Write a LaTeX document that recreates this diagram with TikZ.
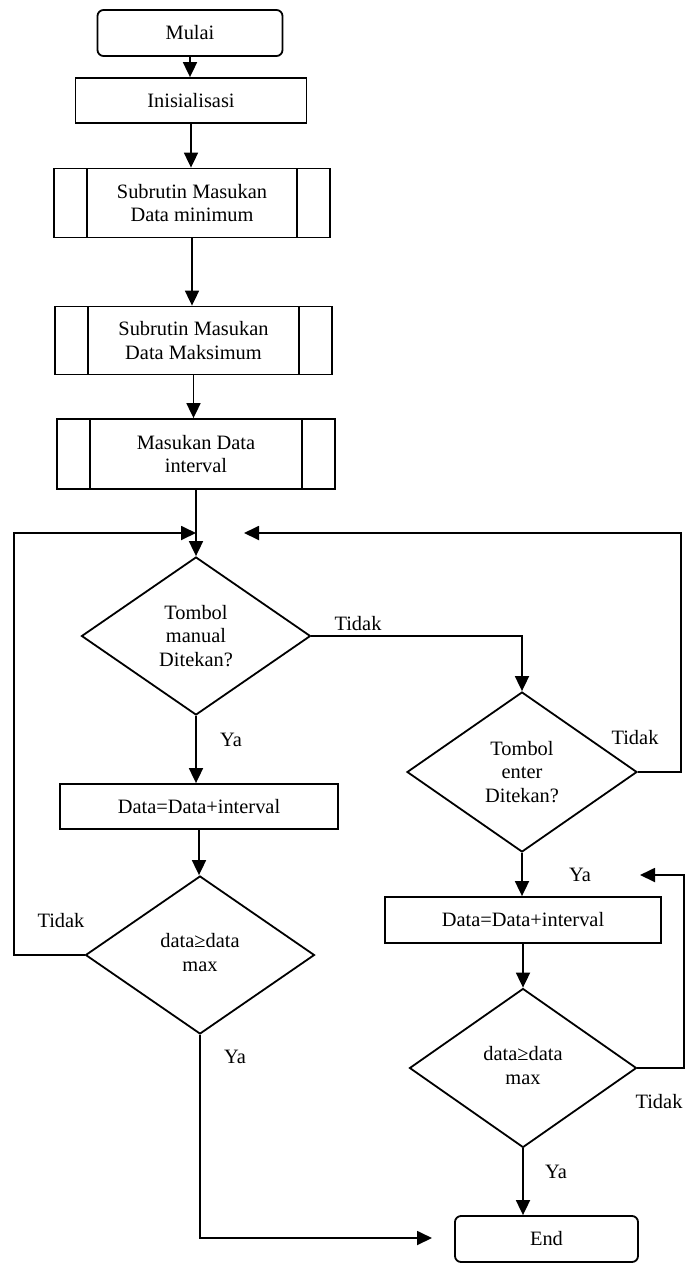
\documentclass[tikz,border=0pt]{standalone}
\usepackage{fontspec}
\setmainfont{Liberation Serif}
\usetikzlibrary{shapes.geometric,arrows.meta}
\tikzset{
  base/.style={draw, line width=0.9pt, inner sep=0pt, align=center, font=\fontsize{10.2pt}{11.8pt}\selectfont},
  term/.style={base, rounded corners=3pt, minimum width=#1},
  procbox/.style={base, minimum width=#1},
  subr/.style={base, minimum width=#1, path picture={
    \draw[line width=0.9pt] ([xshift=16.5pt]path picture bounding box.north west) -- ([xshift=16.5pt]path picture bounding box.south west);
    \draw[line width=0.9pt] ([xshift=-16.5pt]path picture bounding box.north east) -- ([xshift=-16.5pt]path picture bounding box.south east);}},
  dec/.style={base, diamond, minimum width=114.5pt, minimum height=79pt},
  lbl/.style={font=\fontsize{10.2pt}{11.8pt}\selectfont, inner sep=0pt},
  conn/.style={line width=0.9pt},
  arr/.style={conn, -{Triangle[length=7.5pt,width=7pt]}},
}
\begin{document}
\begin{tikzpicture}[x=0.5pt,y=-0.5pt]
\useasboundingbox (0,0) rectangle (687,1264);
% nodes
\node[term=92.5pt, minimum height=23pt] (mulai) at (190,33) {Mulai};
\node[procbox=115.5pt, minimum height=22.5pt] (init) at (191,100.5) {Inisialisasi};
\node[subr=138pt, minimum height=34.5pt] (s1) at (192,203) {Subrutin Masukan\\Data minimum};
\node[subr=138.5pt, minimum height=34pt] (s2) at (193.5,340.5) {Subrutin Masukan\\Data Maksimum};
\node[subr=139pt, minimum height=35pt] (s3) at (196,454) {Masukan Data\\interval};
\node[dec] (d1) at (196,636) {Tombol\\manual\\Ditekan?};
\node[dec, minimum width=115pt, minimum height=80pt] (d2) at (522,772) {Tombol\\enter\\Ditekan?};
\node[procbox=139pt, minimum height=22.5pt] (bL) at (199,806.5) {Data=Data+interval};
\node[dec] (d3) at (200,955) {\raisebox{5pt}{\begin{tabular}{@{}c@{}}data≥data\\max\end{tabular}}};
\node[procbox=138pt, minimum height=23pt] (bR) at (523,920) {Data=Data+interval};
\node[dec, minimum width=113.5pt, minimum height=79.5pt] (d4) at (523,1068) {\raisebox{4pt}{\begin{tabular}{@{}c@{}}data≥data\\max\end{tabular}}};
\node[term=91.5pt, minimum height=23pt] (end) at (546.5,1239) {End};
% coordinates
\coordinate (m) at (196,533);
\coordinate (ltop) at (14,533);
\coordinate (rtop) at (681,533);
\coordinate (rtip) at (244,533);
\coordinate (etip) at (432,1238);
\coordinate (r4top) at (684,875);
\coordinate (r4tip) at (640,875);
% labels
\node[lbl] (t1) at (358,624) {Tidak};
\node[lbl] (y1) at (231,740) {Ya};
\node[lbl] (t2) at (635,738) {Tidak};
\node[lbl] (t3) at (61,921) {Tidak};
\node[lbl] (y3) at (235,1057) {Ya};
\node[lbl] (y2) at (580,875) {Ya};
\node[lbl] (t4) at (659,1102) {Tidak};
\node[lbl] (y4) at (556,1172) {Ya};
% connectors
\draw[arr] (mulai.south) -- (mulai.south |- init.north);
\draw[arr] (init.south) -- (init.south |- s1.north);
\draw[arr] (s1.south) -- (s1.south |- s2.north);
\draw[arr] (s2.south) -- (s2.south |- s3.north);
\draw[arr] (s3.south) -- (s3.south |- d1.north);
\draw[arr] (d1.east) -| (d2.north);
\draw[arr] (d2.east) -| (rtop) -- (rtip);
\draw[arr] (d1.south) -- (d1.south |- bL.north);
\draw[arr] (bL.south) -- (bL.south |- d3.north);
\draw[arr] (d3.west) -| (ltop) -- (m);
\draw[arr] (d3.south) |- (etip);
\draw[arr] (d2.south) -- (d2.south |- bR.north);
\draw[arr] (bR.south) -- (bR.south |- d4.north);
\draw[arr] (d4.east) -| (r4top) -- (r4tip);
\draw[arr] (d4.south) -- (d4.south |- end.north);
\end{tikzpicture}
\end{document}
